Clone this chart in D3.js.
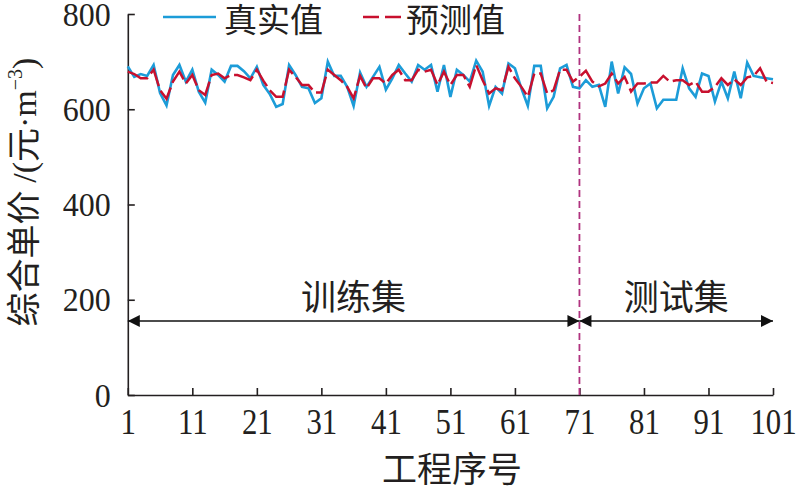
<!DOCTYPE html>
<html><head><meta charset="utf-8">
<script src="https://cdn.jsdelivr.net/npm/d3@7"></script>
<style>body{margin:0;background:#fff}svg{display:block}</style>
</head><body>
<svg id="c" width="800" height="492"></svg>
<script>
const actual = [690,668,674,670,693,634,608,672,693,658,683,637,614,683,672,658,691,691,680,665,689,651,632,605,611,693,672,647,644,613,623,700,670,670,647,607,677,647,668,689,641,665,693,675,658,693,683,693,637,693,626,683,672,658,702,679,607,647,633,696,686,644,607,691,691,602,626,686,693,647,644,661,647,651,605,700,633,688,674,612,644,654,602,620,620,620,686,644,626,675,670,616,658,623,679,623,698,670,667,665,663];
const predicted = [679,674,665,665,683,640,622,658,679,654,672,640,630,672,675,665,672,672,667,661,683,660,640,626,626,683,668,651,651,635,635,683,672,661,647,623,670,644,665,665,654,672,683,661,661,683,679,683,651,679,651,672,672,647,693,661,633,644,640,689,665,647,626,675,675,633,640,683,683,658,668,681,658,648,654,675,654,668,637,654,654,656,656,670,658,661,661,651,658,637,637,647,665,651,663,651,667,670,686,658,655];
const xTicks = [1,11,21,31,41,51,61,71,81,91,101];
const yTicks = [0,200,400,600,800];
const seriesNames = ["真实值","预测值"];
const splitIndex = 71;
const sections = [{name:"训练集", from:1, to:71},{name:"测试集", from:71, to:101}];

const svg = d3.select("#c");
const L=127.8, R=773, T=14, B=395;
const x = d3.scaleLinear().domain([1,101]).range([L,R]);
const y = d3.scaleLinear().domain([0,800]).range([B,T]);
const serif = "'Liberation Serif','Times New Roman',serif";
const cjk = "'Noto Sans CJK SC','Noto Sans CJK JP',sans-serif";
const blue="#1c9cd8", red="#c8102e", ink="#231f20";

// axes
const xAxis = d3.axisBottom(x).tickValues(xTicks).tickSizeInner(-7).tickSizeOuter(0).tickPadding(14);
const gx = svg.append("g").attr("transform",`translate(0,${B})`).call(xAxis);
gx.selectAll("text").attr("font-family",serif).attr("font-size",35).attr("fill",ink)
  .attr("transform","scale(0.88,1)");
const yAxis = d3.axisLeft(y).tickValues(yTicks).tickSizeInner(-7).tickSizeOuter(0).tickPadding(17);
const gy = svg.append("g").attr("transform",`translate(${L},0)`).call(yAxis);
gy.selectAll("text").attr("font-family",serif).attr("font-size",33).attr("fill",ink).attr("dy","0.34em")
  .attr("x",-17/0.97).attr("transform","scale(0.97,1)");
svg.selectAll(".domain, .tick line").attr("stroke",ink).attr("stroke-width",1.6);

// lines
const line = d3.line().x((d,i)=>x(i+1)).y(d=>y(d));
svg.append("path").datum(actual).attr("d",line).attr("fill","none").attr("stroke",blue).attr("stroke-width",2.6);
svg.append("path").datum(predicted).attr("d",line).attr("fill","none").attr("stroke",red).attr("stroke-width",2.5).attr("stroke-dasharray","22,5");

// split line
svg.append("line").attr("x1",x(splitIndex)).attr("x2",x(splitIndex)).attr("y1",y(800)).attr("y2",B)
  .attr("stroke","#b0337f").attr("stroke-width",1.8).attr("stroke-dasharray","7,4");

// arrows
const defs = svg.append("defs");
defs.append("marker").attr("id","ah").attr("viewBox","0 0 10 10").attr("refX",10).attr("refY",5)
  .attr("markerWidth",18).attr("markerHeight",12).attr("markerUnits","userSpaceOnUse").attr("orient","auto-start-reverse")
  .append("path").attr("d","M0,0 L10,5 L0,10 Z").attr("fill","#111");
const arrowY = 321;
sections.forEach(s=>{
  svg.append("line").attr("x1",x(s.from)).attr("x2",x(s.to)).attr("y1",arrowY).attr("y2",arrowY)
    .attr("stroke","#111").attr("stroke-width",1.6)
    .attr("marker-start","url(#ah)").attr("marker-end","url(#ah)");
  svg.append("text").attr("x",(x(s.from)+x(s.to))/2).attr("y",arrowY-11).attr("text-anchor","middle")
    .attr("font-family",cjk).attr("font-size",35).attr("fill",ink).text(s.name);
});

// legend
const lg = svg.append("g");
lg.append("line").attr("x1",163).attr("x2",216).attr("y1",17).attr("y2",17).attr("stroke",blue).attr("stroke-width",2.6);
lg.append("text").attr("x",224).attr("y",32).attr("font-family",cjk).attr("font-size",33).attr("fill",ink).text(seriesNames[0]);
lg.append("line").attr("x1",363).attr("x2",402).attr("y1",17).attr("y2",17).attr("stroke",red).attr("stroke-width",2.5).attr("stroke-dasharray","16,6");
lg.append("text").attr("x",406).attr("y",32).attr("font-family",cjk).attr("font-size",33).attr("fill",ink).text(seriesNames[1]);

// axis titles
svg.append("text").attr("x",452).attr("y",482).attr("text-anchor","middle")
  .attr("font-family",cjk).attr("font-size",35).attr("fill",ink).text("工程序号");
const yt = svg.append("text").attr("transform","translate(36,192) rotate(-90)").attr("text-anchor","middle")
  .attr("font-family",cjk).attr("font-size",34).attr("fill",ink);
yt.append("tspan").text("综合单价 ");
yt.append("tspan").attr("font-family",serif).text("/(");
yt.append("tspan").text("元");
yt.append("tspan").attr("font-family",serif).text("·m");
yt.append("tspan").attr("font-family",serif).attr("font-size",20).attr("dy",-14).text("−3");
yt.append("tspan").attr("font-family",serif).attr("dy",14).text(")");
</script>
</body></html>
